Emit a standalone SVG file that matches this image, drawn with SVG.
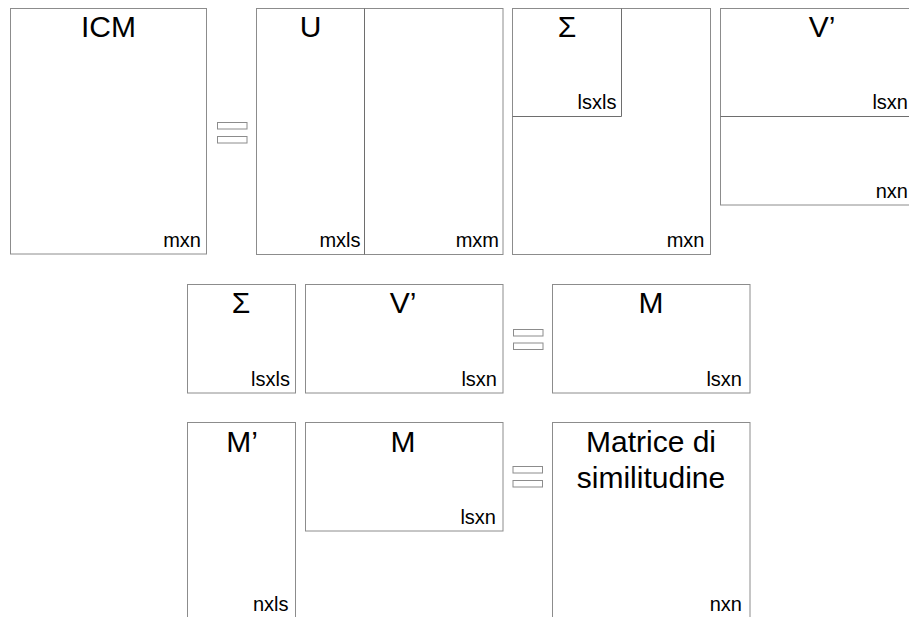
<svg xmlns="http://www.w3.org/2000/svg" width="909" height="617" viewBox="0 0 909 617">
<style>
  .box { fill: #ffffff; stroke: #8c8c8c; stroke-width: 1; }
  .div { fill: none; stroke: #6e6e6e; stroke-width: 1; }
  .eq { fill: #ffffff; stroke: #8c8c8c; stroke-width: 1; }
  .t { font-family: "Liberation Sans", Arial, sans-serif; font-size: 30px; fill: #000; text-anchor: middle; }
  .l { font-family: "Liberation Sans", Arial, sans-serif; font-size: 20px; fill: #000; text-anchor: end; }
</style>
<rect x="0" y="0" width="909" height="617" fill="#ffffff"/>

<g id="icm">
  <rect class="box" x="10.5" y="8.5" width="196" height="245.5"/>
  <text class="t" x="108.5" y="37">ICM</text>
  <text class="l" x="201" y="246.5">mxn</text>
</g>

<g id="eq1">
  <rect class="eq" x="217.5" y="122.5" width="29.5" height="6.5"/>
  <rect class="eq" x="217.5" y="136.5" width="29.5" height="6.5"/>
</g>

<g id="u">
  <rect class="box" x="256.5" y="8.5" width="246.5" height="246"/>
  <line class="div" x1="364.5" y1="8.5" x2="364.5" y2="254.5"/>
  <text class="t" x="310.5" y="37">U</text>
  <text class="l" x="360.5" y="246.5">mxls</text>
  <text class="l" x="499" y="246.5">mxm</text>
</g>

<g id="sigma1">
  <rect class="box" x="512.5" y="8.5" width="198" height="246"/>
  <polyline class="div" points="512.5,116.5 621.5,116.5 621.5,8.5"/>
  <text class="t" x="567" y="37">Σ</text>
  <text class="l" x="616.5" y="108.5">lsxls</text>
  <text class="l" x="704.5" y="246.5">mxn</text>
</g>

<g id="v1">
  <rect class="box" x="720.5" y="8.5" width="205" height="196.5"/>
  <line class="div" x1="720.5" y1="116.5" x2="925.5" y2="116.5"/>
  <text class="t" x="822" y="37">V’</text>
  <text class="l" x="908" y="108.5">lsxn</text>
  <text class="l" x="908" y="197.5">nxn</text>
</g>

<g id="sigma2">
  <rect class="box" x="187.5" y="284.5" width="108" height="108.5"/>
  <text class="t" x="241" y="313">Σ</text>
  <text class="l" x="290" y="386">lsxls</text>
</g>

<g id="v2">
  <rect class="box" x="305.5" y="284.5" width="197.5" height="108.5"/>
  <text class="t" x="403" y="313">V’</text>
  <text class="l" x="497" y="386">lsxn</text>
</g>

<g id="eq2">
  <rect class="eq" x="513.5" y="329.5" width="29.5" height="6.5"/>
  <rect class="eq" x="513.5" y="343" width="29.5" height="6.5"/>
</g>

<g id="m1">
  <rect class="box" x="552.5" y="284.5" width="197.5" height="108.5"/>
  <text class="t" x="651" y="313">M</text>
  <text class="l" x="742" y="386">lsxn</text>
</g>

<g id="mprime">
  <rect class="box" x="187.5" y="422.5" width="108" height="200"/>
  <text class="t" x="242" y="451.5">M’</text>
  <text class="l" x="288.5" y="610.5">nxls</text>
</g>

<g id="m2">
  <rect class="box" x="305.5" y="422.5" width="197.5" height="108.5"/>
  <text class="t" x="403" y="451.5">M</text>
  <text class="l" x="496" y="524">lsxn</text>
</g>

<g id="eq3">
  <rect class="eq" x="513" y="466.5" width="29.5" height="6.5"/>
  <rect class="eq" x="513" y="480.5" width="29.5" height="6.5"/>
</g>

<g id="sim">
  <rect class="box" x="552.5" y="422.5" width="197.5" height="200"/>
  <text class="t" x="651" y="451.5">Matrice di</text>
  <text class="t" x="651" y="488">similitudine</text>
  <text class="l" x="742" y="610.5">nxn</text>
</g>

<g id="connectors"></g>
</svg>
